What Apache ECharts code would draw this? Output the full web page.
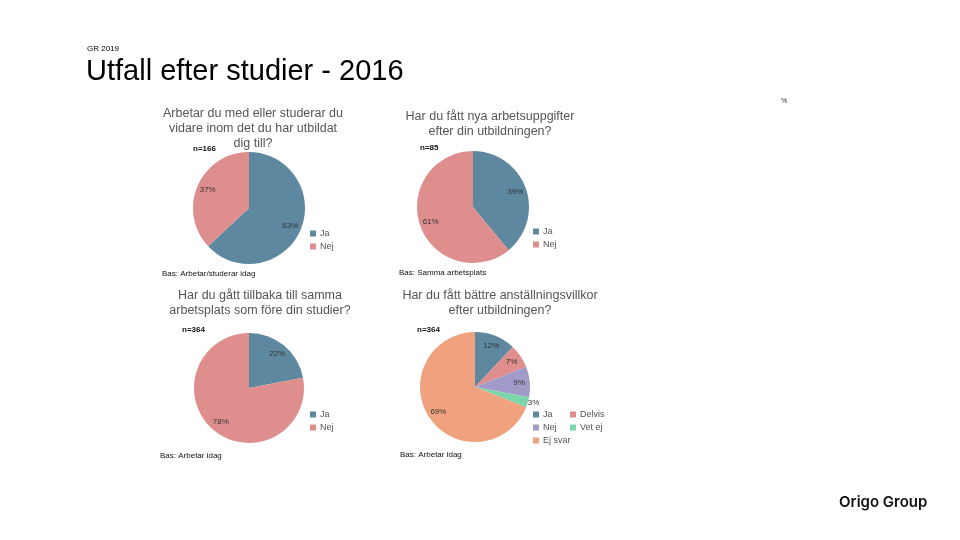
<!DOCTYPE html>
<html><head><meta charset="utf-8">
<script src="https://cdn.jsdelivr.net/npm/echarts@6/dist/echarts.min.js"></script>
<style>html,body{margin:0;padding:0;background:#fff}#c{width:960px;height:540px}</style>
</head><body><div id="c"></div>
<script>
const catsYesNo = ['Ja', 'Nej'];
const catsFive = ['Ja', 'Delvis', 'Nej', 'Vet ej', 'Ej svar'];
const q1Values = [63, 37];
const q2Values = [39, 61];
const q3Values = [22, 78];
const q4Values = [12, 7, 9, 3, 69];
const chartTitles = [
  'Arbetar du med eller studerar du\nvidare inom det du har utbildat\ndig till?',
  'Har du fått nya arbetsuppgifter\nefter din utbildningen?',
  'Har du gått tillbaka till samma\narbetsplats som före din studier?',
  'Har du fått bättre anställningsvillkor\nefter utbildningen?'
];
const nLabels = ['n=166', 'n=85', 'n=364', 'n=364'];
const basLabels = ['Bas: Arbetar/studerar idag', 'Bas: Samma arbetsplats', 'Bas: Arbetar idag', 'Bas: Arbetar idag'];

const C = {Ja:'#5e87a0', Nej:'#de8f8d', Delvis:'#de8f8d', Nej4:'#a19bc9', 'Vet ej':'#7dd6a9', 'Ej svar':'#f0a27f'};
const FONT = '"Liberation Sans", Arial, sans-serif';

function pieSeries(center, r, names, values, colors, outsideIdx) {
  const data = names.map((n, i) => ({name: n, value: values[i], itemStyle: {color: colors[i]}}));
  const main = {
    type: 'pie', center: center, radius: [0, r], startAngle: 90, clockwise: true,
    silent: true, animation: false, label: {show: false}, labelLine: {show: false},
    itemStyle: {borderWidth: 0}, data: data
  };
  const over = {
    type: 'pie', center: center, radius: [r * 0.5, r], startAngle: 90, clockwise: true,
    silent: true, animation: false, avoidLabelOverlap: false,
    itemStyle: {color: 'rgba(0,0,0,0)', borderWidth: 0},
    label: {show: true, position: 'inside', formatter: '{c}%', fontSize: 8, color: '#333', fontFamily: FONT},
    labelLine: {show: false},
    data: names.map((n, i) => {
      const d = {name: n + ' ', value: values[i]};
      if (i === outsideIdx) {
        d.label = {position: 'outside', distanceToLabelLine: 0};
        d.labelLine = {show: false, length: 0, length2: 0};
      }
      return d;
    })
  };
  return [main, over];
}

function legend(left, top, names, colors) {
  return {
    orient: 'vertical', left: left, top: top, itemWidth: 6, itemHeight: 6, itemGap: 4,
    icon: 'rect', selectedMode: false,
    textStyle: {fontSize: 9, color: '#555', fontFamily: FONT, padding: [0, 0, 0, -1]},
    data: names.map((n, i) => ({name: n, itemStyle: {color: colors[i]}}))
  };
}

const colors2 = [C.Ja, C.Nej];
const colors5 = [C.Ja, C.Delvis, C.Nej4, C['Vet ej'], C['Ej svar']];

const series = [].concat(
  pieSeries([249, 208], 56, catsYesNo, q1Values, colors2, -1),
  pieSeries([473, 207], 56, catsYesNo, q2Values, colors2, -1),
  pieSeries([249, 388], 55, catsYesNo, q3Values, colors2, -1),
  pieSeries([475, 387], 55, catsFive, q4Values, colors5, 3)
);

const titlePos = [[248, 101], [485, 104], [255, 283], [495, 283]];
const titles = chartTitles.map((t, i) => ({
  text: t, left: titlePos[i][0], top: titlePos[i][1], textAlign: 'center',
  textStyle: {fontSize: 12.5, fontWeight: 'normal', color: '#555', lineHeight: 15, fontFamily: FONT}
}));

const nPos = [[193, 145], [420, 144], [182, 326], [417, 326]];
const basPos = [[162, 270], [399, 269], [160, 452], [400, 451]];
const graphics = [
  {type: 'text', left: 87, top: 45, style: {text: 'GR 2019', fontSize: 8, fill: '#000', fontFamily: FONT}},
  {type: 'text', left: 86, top: 57, style: {text: 'Utfall efter studier - 2016', fontSize: 29, fill: '#000', fontFamily: FONT}},
  {type: 'text', left: 781, top: 98, style: {text: '%', fontSize: 7, fill: '#333', fontFamily: FONT}},
  {type: 'text', left: 839, top: 495, style: {text: 'Origo Group', fontSize: 15, fontWeight: 600, fill: '#111', fontFamily: 'Inter, sans-serif'}}
];
nLabels.forEach((t, i) => graphics.push({type: 'text', left: nPos[i][0], top: nPos[i][1], style: {text: t, fontSize: 8, fontWeight: 'bold', fill: '#111', fontFamily: FONT}}));
basLabels.forEach((t, i) => graphics.push({type: 'text', left: basPos[i][0], top: basPos[i][1], style: {text: t, fontSize: 8, fill: '#111', fontFamily: FONT}}));

const chart = echarts.init(document.getElementById('c'), null, {renderer: 'canvas'});
chart.setOption({
  animation: false,
  backgroundColor: '#fff',
  title: titles,
  legend: [
    legend(305, 224, catsYesNo, colors2),
    legend(528, 222, catsYesNo, colors2),
    legend(305, 405, catsYesNo, colors2),
    legend(528, 405, ['Ja', 'Nej', 'Ej svar'], [C.Ja, C.Nej4, C['Ej svar']]),
    legend(565, 405, ['Delvis', 'Vet ej'], [C.Delvis, C['Vet ej']])
  ],
  graphic: graphics,
  series: series
});
</script></body></html>
